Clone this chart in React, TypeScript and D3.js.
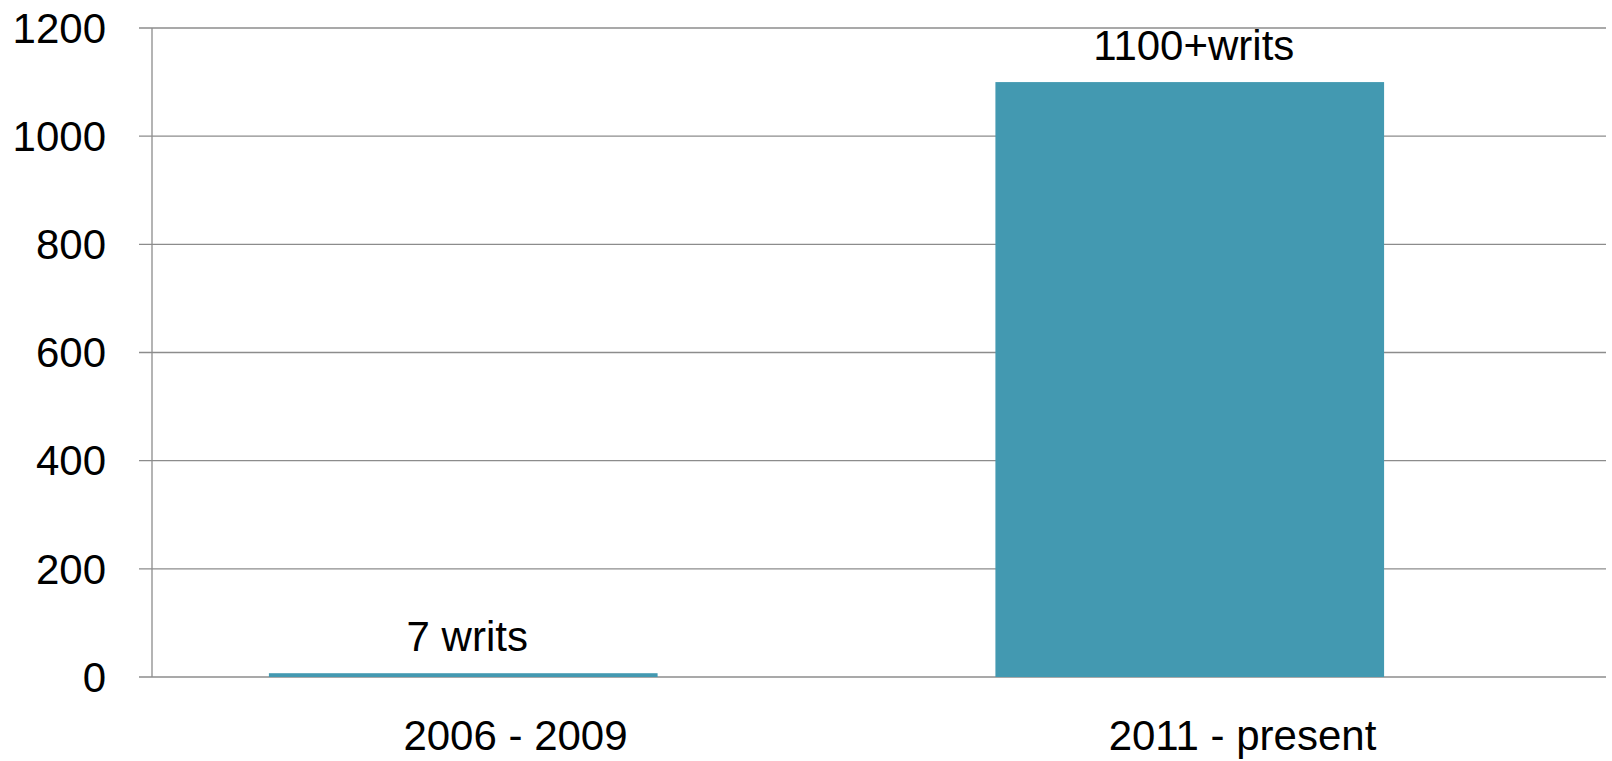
import React, { useRef, useEffect } from 'react';
import * as d3 from 'd3';

const categories = ['2006 - 2009', '2011 - present'];
const values = [7, 1100];
const barLabels = ['7 writs', '1100+writs'];
const yTicks = [0, 200, 400, 600, 800, 1000, 1200];

const App = () => {
    const svgRef = useRef<SVGSVGElement | null>(null);

    useEffect(() => {
        if (!svgRef.current) return;

        const width = 1612;
        const height = 761;
        const plot = { left: 152, right: 1606, top: 28, bottom: 677 };
        const font = "'Liberation Sans', Arial, sans-serif";

        const svg = d3.select(svgRef.current);
        svg.selectAll('*').remove();
        svg.attr('width', width).attr('height', height);

        const y = d3.scaleLinear()
            .domain([0, 1200])
            .range([plot.bottom, plot.top]);

        // category labels sit in the middle of each band
        const x = d3.scaleBand<string>()
            .domain(categories)
            .range([plot.left, plot.right]);

        // the bars themselves sit a bit to the left of the label bands
        const xBar = d3.scaleBand<string>()
            .domain(categories)
            .range([plot.left - 52, plot.right - 53])
            .paddingInner(0.465)
            .paddingOuter(0.2325);

        // gridlines (with the small outside tick)
        svg.append('g')
            .selectAll('line')
            .data(yTicks)
            .enter().append('line')
            .attr('x1', plot.left - 13)
            .attr('x2', plot.right)
            .attr('y1', d => y(d))
            .attr('y2', d => y(d))
            .attr('stroke', '#8c8c8c')
            .attr('stroke-width', 1.3);

        // vertical axis line
        svg.append('line')
            .attr('x1', plot.left)
            .attr('x2', plot.left)
            .attr('y1', y(1200))
            .attr('y2', y(0))
            .attr('stroke', '#8c8c8c')
            .attr('stroke-width', 1.3);

        svg.append('g')
            .selectAll('text')
            .data(yTicks)
            .enter().append('text')
            .attr('x', 106)
            .attr('y', d => y(d))
            .attr('dy', '0.35em')
            .style('text-anchor', 'end')
            .style('font-family', font)
            .style('font-size', '42px')
            .style('fill', '#000')
            .text(d => d);

        const data = categories.map((c, i) => ({ category: c, value: values[i], label: barLabels[i] }));

        svg.append('g')
            .selectAll('rect')
            .data(data)
            .enter().append('rect')
            .attr('x', d => xBar(d.category)!)
            .attr('y', d => y(d.value))
            .attr('width', xBar.bandwidth())
            .attr('height', d => y(0) - y(d.value))
            .attr('fill', '#4399b1');

        svg.append('g')
            .selectAll('text')
            .data(data)
            .enter().append('text')
            .attr('x', d => xBar(d.category)! + xBar.bandwidth() / 2 + 4)
            .attr('y', d => y(d.value) - 22)
            .style('text-anchor', 'middle')
            .style('font-family', font)
            .style('font-size', '42px')
            .style('fill', '#000')
            .text(d => d.label);

        svg.append('g')
            .selectAll('text')
            .data(categories)
            .enter().append('text')
            .attr('x', d => x(d)! + x.bandwidth() / 2)
            .attr('y', 750)
            .style('text-anchor', 'middle')
            .style('font-family', font)
            .style('font-size', '42px')
            .style('fill', '#000')
            .text(d => d);
    }, []);

    return (
        <div style={{ position: 'absolute', left: 0, top: 0, background: '#fff' }}>
            <svg ref={svgRef} style={{ display: 'block' }}></svg>
        </div>
    );
};

export default App;
